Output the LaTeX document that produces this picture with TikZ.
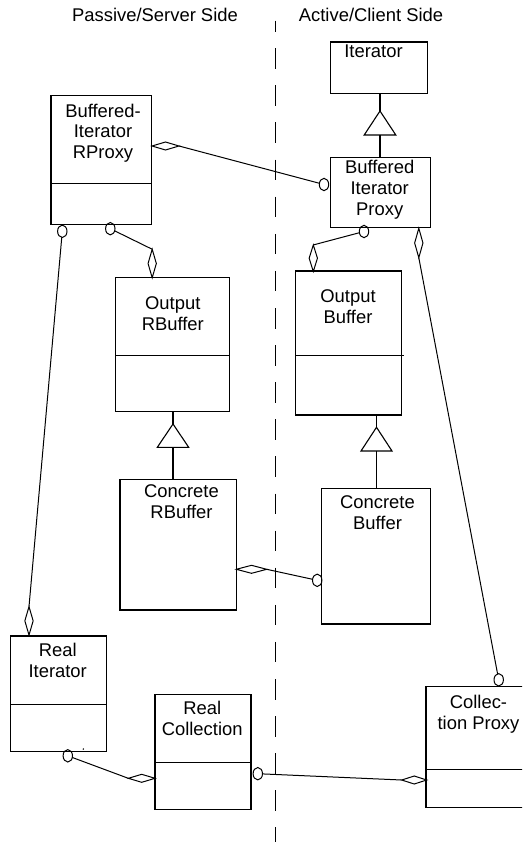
\documentclass[tikz,border=0pt]{standalone}
\usepackage{fontspec}
\setmainfont{Liberation Sans}
\usetikzlibrary{shapes.geometric}
\begin{document}
\begin{tikzpicture}[x=1pt,y=-1pt,
  cls/.style={draw, line width=1.1pt, rectangle, inner sep=0pt, outer sep=0pt},
  lbl/.style={anchor=north, inner sep=0pt, align=center, font=\fontsize{18.4}{20.8}\selectfont},
  ttl/.style={anchor=base, inner sep=0pt, font=\fontsize{18.4}{20.8}\selectfont},
  hole/.style={draw, ellipse, line width=1pt, minimum width=9.4pt, minimum height=12.4pt, inner sep=0pt, outer sep=0pt},
  hdia/.style={draw, diamond, line width=1pt, minimum width=27pt, minimum height=8pt, inner sep=0pt, outer sep=0pt},
  vdia/.style={draw, diamond, line width=1pt, minimum width=8.3pt, minimum height=28.5pt, inner sep=0pt, outer sep=0pt},
  link/.style={line width=1pt},
  gen/.style={line width=1.1pt},
  divider/.style={line width=1.1pt}
]
\useasboundingbox (0,0) rectangle (522,842);
\clip (0,0) rectangle (522,842);

% side titles and the dashed boundary between them
\node[ttl] (tpass) at (155,21.5) {Passive/Server Side};
\node[ttl] (tact) at (371,21.5) {Active/Client Side};
\coordinate (dtop) at (275.3,20.7);
\coordinate (dbot) at (275.3,842);
\draw[line width=1pt, dash pattern=on 20.5pt off 16.6pt, dash phase=9.5pt] (dtop) -- (dbot);

% class boxes
\node[cls, minimum width=97.4pt, minimum height=51.7pt] (iter) at (379,67.85) {};
\node[cls, minimum width=100.7pt, minimum height=128.6pt] (birp) at (101.35,160) {};
\node[cls, minimum width=100pt, minimum height=70.4pt] (bip) at (380.3,192.5) {};
\node[cls, minimum width=114pt, minimum height=134.4pt] (orb) at (172.7,344.5) {};
\node[cls, minimum width=106pt, minimum height=144pt] (ob) at (348.7,343) {};
\node[cls, minimum width=116.3pt, minimum height=130.7pt] (crb) at (178.15,544.65) {};
\node[cls, minimum width=109pt, minimum height=135.3pt] (cb) at (376.2,556.35) {};
\node[cls, minimum width=96pt, minimum height=115.7pt] (ri) at (58.7,693.85) {};
\node[cls, minimum width=96pt, minimum height=115pt] (rc) at (203,751.8) {};
\node[cls, minimum width=114pt, minimum height=120.6pt] (cp) at (483,747) {};

% compartment dividers
\draw[divider] (birp.west |- 0,183.7) -- (birp.east |- 0,183.7);
\draw[divider] (orb.west |- 0,355.3) -- (orb.east |- 0,355.3);
\draw[divider] (ob.west |- 0,355.3) -- (404.3,355.3);
\draw[divider] (ri.west |- 0,704.3) -- (ri.east |- 0,704.3);
\draw[divider] (rc.west |- 0,762.3) -- (rc.east |- 0,762.3);
\draw[divider] (cp.west |- 0,769.3) -- (cp.east |- 0,769.3);

% class names
\node[lbl] (t-iter) at (373.5,44.9) {Iterator};
\node[lbl] (t-birp) at (103,103.5) {Buffered-\\Iterator\\RProxy};
\node[lbl] (t-bip) at (379.7,160.3) {Buffered\\Iterator\\Proxy};
\node[lbl] (t-orb) at (172.8,296.5) {Output\\RBuffer};
\node[lbl] (t-ob) at (348,289.9) {Output\\Buffer};
\node[lbl] (t-crb) at (181.5,484.9) {Concrete\\RBuffer};
\node[lbl] (t-cb) at (377.5,495.9) {Concrete\\Buffer};
\node[lbl] (t-ri) at (57.7,643.2) {Real\\Iterator};
\node[lbl] (t-rc) at (202.2,700.9) {Real\\Collection};
\node[lbl] (t-cp) at (478.5,694.9) {Collec-\\tion Proxy};
\fill (83.3,749) circle (0.8pt);

% generalisation triangles
\coordinate (g1) at (380,111);   \coordinate (g1b) at (380,135);
\coordinate (g2) at (173,424);   \coordinate (g2b) at (173,447.3);
\coordinate (g3) at (376.5,427.3); \coordinate (g3b) at (376.5,451);
\draw[gen] (g1) -- ++(15.8,24) -- ++(-31.6,0) -- cycle;
\draw[gen] (g2) -- ++(15.7,23.3) -- ++(-31.4,0) -- cycle;
\draw[gen] (g3) -- ++(15.5,23.7) -- ++(-31,0) -- cycle;
\draw[gen] (g1 |- iter.south) -- (g1);
\draw[gen] (g1b) -- (g1b |- bip.north);
\draw[gen] (g2 |- orb.south) -- (g2);
\draw[gen] (g2b) -- (g2b |- crb.north);
\draw[gen] (g3 |- ob.south) -- (g3);
\draw[gen] (g3b) -- (g3b |- cb.north);

% aggregation ends (diamonds) and use ends (small circles)
\node[hdia] (dA) at (165.5,146) {};
\node[hole] (cA) at (324,184.5) {};
\node[hole] (cB1) at (62.3,231.3) {};
\node[vdia] (dRI) at (29,620.85) {};
\node[hole] (cB2) at (110.3,228.7) {};
\node[vdia] (dORB) at (152.2,263.5) {};
\node[hole] (cC) at (364,231.5) {};
\node[vdia, minimum height=26.5pt] (dOB) at (313.3,258.2) {};
\node[vdia, minimum height=29.4pt] (dD) at (418.8,243) {};
\node[hole] (cE) at (498.7,679.8) {};
\node[hdia, minimum width=30.4pt] (dF) at (251.5,569.3) {};
\node[hole] (cF) at (317.2,580.3) {};
\node[hole] (cG) at (67.8,755.8) {};
\node[hdia, minimum width=26.7pt] (dG) at (141.7,778.3) {};
\node[hole] (cH) at (257.8,773.7) {};
\node[hdia, minimum width=25pt] (dH) at (414.2,780) {};

% associations
\draw[link] (dA.east) -- (cA);
\draw[link] (cB1) -- (dRI.north);
\draw[link] (cB2) -- (dORB.north);
\draw[link] (cC) -- (dOB.north);
\draw[link] (dD.south) -- (cE);
\draw[link] (dF.east) -- (cF);
\draw[link] (cG) -- (dG.west);
\draw[link] (cH) -- (dH.west);
\end{tikzpicture}
\end{document}
